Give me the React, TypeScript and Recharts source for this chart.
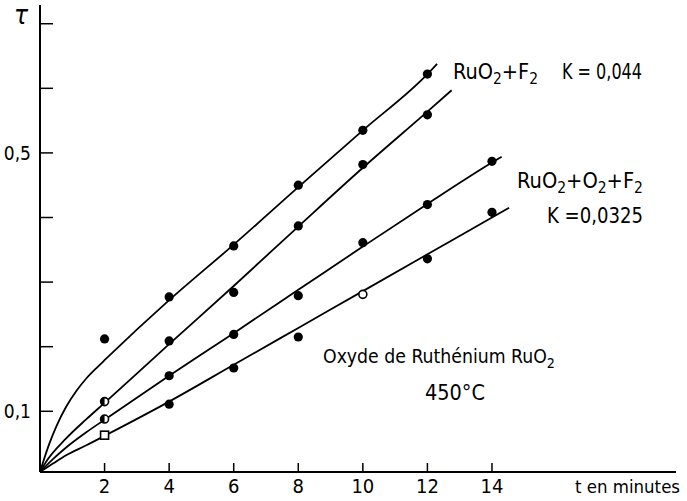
import React from 'react';
import { ComposedChart, Line, Scatter, XAxis, YAxis } from 'recharts';

// axis ticks
const xTicks = [2, 4, 6, 8, 10, 12, 14];
const yTicks = [0.1, 0.2, 0.3, 0.4, 0.5, 0.6, 0.7];
const yTickValuesLabelled = [0.1, 0.5];
const yTickLabelsText = ['0,1', '0,5'];

// measured points (t in minutes, tau)
const ptTimesA = [2, 4, 6, 8, 10, 12];
const ptA = [0.212, 0.277, 0.356, 0.45, 0.535, 0.622];
const ptTimesB = [2, 4, 6, 8, 10, 12];
const ptB = [0.115, 0.209, 0.284, 0.387, 0.482, 0.559];
const ptTimesC = [2, 4, 6, 8, 10, 12, 14];
const ptC = [0.088, 0.155, 0.219, 0.279, 0.361, 0.42, 0.487];
const ptTimesD = [2, 4, 6, 8, 10, 12, 14];
const ptD = [0.063, 0.111, 0.167, 0.215, 0.281, 0.336, 0.408];

// drawn curves
const curveTimesA = [0, 0.084, 0.29, 0.5, 0.81, 1.12, 1.42, 1.73, 2.04, 4, 6, 8, 10, 12, 12.3];
const curveA = [0.006, 0.0195, 0.05, 0.076, 0.107, 0.131, 0.15, 0.166, 0.181, 0.272, 0.358, 0.447, 0.535, 0.622, 0.638];
const curveTimesB = [0, 0.19, 0.81, 1.42, 2, 4, 6, 8, 10, 12, 12.75];
const curveB = [0.006, 0.022, 0.058, 0.087, 0.113, 0.204, 0.294, 0.386, 0.477, 0.564, 0.597];
const curveTimesC = [0, 0.4, 0.81, 1.42, 2, 4, 6, 8, 10, 12, 14, 14.3];
const curveC = [0.006, 0.026, 0.044, 0.067, 0.087, 0.155, 0.221, 0.288, 0.355, 0.421, 0.485, 0.494];
const curveTimesD = [0, 0.4, 0.81, 1.42, 2, 4, 6, 8, 10, 12, 14, 14.53];
const curveD = [0.006, 0.019, 0.032, 0.047, 0.062, 0.115, 0.172, 0.229, 0.286, 0.343, 0.4, 0.415];

const zip = (ts: number[], vs: number[]) => ts.map((t, i) => ({ t, v: vs[i] }));

const FONT = "'DejaVu Sans Condensed', 'DejaVu Sans', sans-serif";

const dot = (kind: 'filled' | 'open' | 'half' | 'square') => (props: any) => {
  const { cx, cy } = props;
  if (cx == null || cy == null) return <g />;
  if (kind === 'square')
    return <rect x={cx - 4} y={cy - 4} width={8} height={8} fill="#fff" stroke="#000" strokeWidth={1.6} />;
  if (kind === 'open')
    return <circle cx={cx} cy={cy} r={4} fill="#fff" stroke="#000" strokeWidth={1.6} />;
  if (kind === 'half')
    return (
      <g>
        <circle cx={cx} cy={cy} r={4} fill="#fff" stroke="#000" strokeWidth={1.6} />
        <path d={`M${cx} ${cy - 4} A4 4 0 0 0 ${cx} ${cy + 4} Z`} fill="#000" />
      </g>
    );
  return <circle cx={cx} cy={cy} r={4.6} fill="#000" />;
};

const shapeFor = (series: string) => (props: any) => {
  const i = props.index;
  if (series === 'B' && i === 0) return dot('half')(props);
  if (series === 'C' && i === 0) return dot('half')(props);
  if (series === 'D' && i === 0) return dot('square')(props);
  if (series === 'D' && i === 4) return dot('open')(props);
  return dot('filled')(props);
};

const XTick = (props: any) => {
  const { x, y, payload } = props;
  return (
    <g>
      <line x1={x} y1={y} x2={x} y2={y - 9} stroke="#000" strokeWidth={1.5} />
      <text x={x} y={y + 21} textAnchor="middle" fontFamily={FONT} fontSize={20} fill="#000">
        {payload.value}
      </text>
    </g>
  );
};

const YTick = (props: any) => {
  const { x, y, payload } = props;
  const idx = yTickValuesLabelled.findIndex((v) => Math.abs(v - payload.value) < 1e-9);
  return (
    <g>
      <line x1={x} y1={y} x2={x + 13} y2={y} stroke="#000" strokeWidth={1.5} />
      {idx >= 0 && (
        <text x={x - 9} y={y + 7} textAnchor="end" fontFamily={FONT} fontSize={19} fill="#000">
          {yTickLabelsText[idx]}
        </text>
      )}
    </g>
  );
};

export default function App() {
  const lineProps = {
    type: 'monotone' as const,
    dataKey: 'v',
    stroke: '#000',
    strokeWidth: 1.8,
    dot: false,
    activeDot: false,
    isAnimationActive: false,
  };
  const sub = (c: string, after: string) => [
    <tspan key={'s' + c + after} dy={5} fontSize={15}>{c}</tspan>,
    <tspan key={'a' + c + after} dy={-5}>{after}</tspan>,
  ];
  return (
    <div style={{ position: 'absolute', left: 0, top: 0, background: '#fff' }}>
      <ComposedChart width={687} height={501} margin={{ top: 5, right: 11, bottom: 0, left: 0 }}>
        <XAxis
          type="number"
          dataKey="t"
          domain={[0, 19.7]}
          ticks={xTicks}
          height={29}
          tickSize={0}
          tickMargin={0}
          tick={<XTick />}
          tickLine={false}
          axisLine={{ stroke: '#000', strokeWidth: 2 }}
          allowDataOverflow
        />
        <YAxis
          type="number"
          dataKey="v"
          domain={[0.006, 0.729]}
          ticks={yTicks}
          width={40}
          tickSize={0}
          tickMargin={0}
          tick={<YTick />}
          tickLine={false}
          axisLine={{ stroke: '#000', strokeWidth: 2 }}
          allowDataOverflow
        />
        <Line data={zip(curveTimesA, curveA)} {...lineProps} />
        <Line data={zip(curveTimesB, curveB)} {...lineProps} />
        <Line data={zip(curveTimesC, curveC)} {...lineProps} />
        <Line data={zip(curveTimesD, curveD)} {...lineProps} />
        <Scatter data={zip(ptTimesA, ptA)} dataKey="v" shape={shapeFor('A')} isAnimationActive={false} />
        <Scatter data={zip(ptTimesB, ptB)} dataKey="v" shape={shapeFor('B')} isAnimationActive={false} />
        <Scatter data={zip(ptTimesC, ptC)} dataKey="v" shape={shapeFor('C')} isAnimationActive={false} />
        <Scatter data={zip(ptTimesD, ptD)} dataKey="v" shape={shapeFor('D')} isAnimationActive={false} />
        <g fontFamily={FONT} fontSize={21} fill="#000">
          <text x={14} y={24} fontSize={26} fontStyle="italic">τ</text>
          <text x={453} y={79} textLength={85} lengthAdjust="spacingAndGlyphs">
            RuO{sub('2', '+F')}
            <tspan dy={5} fontSize={15}>2</tspan>
          </text>
          <text x={562} y={79} textLength={80} lengthAdjust="spacingAndGlyphs">K = 0,044</text>
          <text x={517} y={188} textLength={126} lengthAdjust="spacingAndGlyphs">
            RuO{sub('2', '+O')}{sub('2', '+F')}
            <tspan dy={5} fontSize={15}>2</tspan>
          </text>
          <text x={547} y={223} textLength={96} lengthAdjust="spacingAndGlyphs">K =0,0325</text>
          <text x={323} y={363} fontSize={19} textLength={232} lengthAdjust="spacingAndGlyphs">
            Oxyde de Ruthénium RuO<tspan dy={5} fontSize={14}>2</tspan>
          </text>
          <text x={425} y={400} textLength={60} lengthAdjust="spacingAndGlyphs">450°C</text>
          <text x={575} y={493} fontSize={17.5} textLength={105} lengthAdjust="spacingAndGlyphs">t en minutes</text>
        </g>
      </ComposedChart>
    </div>
  );
}
